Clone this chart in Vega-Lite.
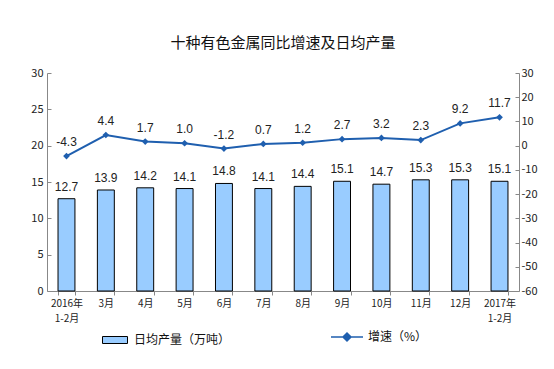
{
  "$schema": "https://vega.github.io/schema/vega-lite/v6.json",
  "width": 472,
  "height": 218,
  "autosize": {"type": "none"},
  "padding": {"left": 47, "top": 73, "right": 35, "bottom": 78},
  "background": "white",
  "config": {
    "view": {"stroke": null},
    "font": "Noto Sans CJK SC",
    "locale": {"number": {"decimal": ".", "thousands": ",", "grouping": [3], "currency": ["$", ""], "minus": "-"}},
    "axis": {"labelFont": "Noto Sans CJK SC", "labelFontSize": 10, "labelColor": "#222", "domainColor": "#888", "tickColor": "#888", "grid": false, "title": null}
  },
  "title": {"text": "十种有色金属同比增速及日均产量", "fontSize": 15, "fontWeight": "normal", "font": "Noto Sans CJK SC", "color": "#111", "offset": 16, "anchor": "middle"},
  "data": {"values": [
    {"m": "2016年\n1-2月", "prod": 12.7, "g": -4.3},
    {"m": "3月", "prod": 13.9, "g": 4.4},
    {"m": "4月", "prod": 14.2, "g": 1.7},
    {"m": "5月", "prod": 14.1, "g": 1.0},
    {"m": "6月", "prod": 14.8, "g": -1.2},
    {"m": "7月", "prod": 14.1, "g": 0.7},
    {"m": "8月", "prod": 14.4, "g": 1.2},
    {"m": "9月", "prod": 15.1, "g": 2.7},
    {"m": "10月", "prod": 14.7, "g": 3.2},
    {"m": "11月", "prod": 15.3, "g": 2.3},
    {"m": "12月", "prod": 15.3, "g": 9.2},
    {"m": "2017年\n1-2月", "prod": 15.1, "g": 11.7}
  ]},
  "encoding": {
    "x": {"field": "m", "type": "nominal", "sort": null,
      "scale": {"paddingInner": 0.57, "paddingOuter": 0.28},
      "axis": {"labelAngle": 0, "labelExpr": "split(datum.label, '\\n')", "labelLineHeight": 15, "labelPadding": 3, "tickBand": "extent", "tickSize": 4, "labelFontSize": 10}}
  },
  "layer": [
    {
      "encoding": {
        "y": {"field": "prod", "type": "quantitative", "scale": {"domain": [0, 30], "nice": false},
          "axis": {"orient": "left", "values": [0, 5, 10, 15, 20, 25, 30], "tickSize": -4, "labelPadding": 8, "labelFontSize": 11}}
      },
      "layer": [
        {"mark": {"type": "bar", "stroke": "#000", "strokeWidth": 1},
         "encoding": {"fill": {"datum": "日均产量（万吨）", "scale": {"range": ["#99CCFF"]},
           "legend": {"orient": "none", "legendX": 55, "legendY": 254, "title": null, "symbolType": "M-1,-0.28H1V0.28H-1Z", "symbolSize": 625, "symbolStrokeColor": "#000", "symbolStrokeWidth": 1, "labelFont": "Noto Sans CJK SC", "labelFontSize": 12, "labelColor": "#111", "labelOffset": 6}}}},
        {"mark": {"type": "text", "baseline": "bottom", "dy": -5, "fontSize": 12, "font": "Liberation Sans", "color": "#222"},
         "encoding": {"text": {"field": "prod", "type": "quantitative", "format": ".1f"}}}
      ]
    },
    {
      "encoding": {
        "y": {"field": "g", "type": "quantitative", "scale": {"domain": [-60, 30], "nice": false},
          "axis": {"orient": "right", "values": [-60, -50, -40, -30, -20, -10, 0, 10, 20, 30], "tickSize": -4, "labelPadding": 6, "labelFontSize": 11}}
      },
      "layer": [
        {"mark": {"type": "line", "strokeWidth": 2},
         "encoding": {"stroke": {"datum": "增速（%）", "scale": {"range": ["#1F5FAF"]},
           "legend": {"orient": "none", "legendX": 283, "legendY": 247, "title": null, "symbolType": "M-1,0H1M0,-0.25L0.25,0L0,0.25L-0.25,0Z", "symbolSize": 1024, "symbolFillColor": "#1F5FAF", "symbolStrokeWidth": 1.5, "labelFont": "Noto Sans CJK SC", "labelFontSize": 12, "labelColor": "#111", "labelOffset": 4}}}},
        {"mark": {"type": "point", "shape": "diamond", "filled": true, "size": 45, "color": "#1F5FAF", "opacity": 1}},
        {"mark": {"type": "text", "baseline": "bottom", "dy": -7, "fontSize": 12, "font": "Liberation Sans", "color": "#222"},
         "encoding": {"text": {"field": "g", "type": "quantitative", "format": ".1f"}}}
      ]
    }
  ],
  "resolve": {"scale": {"y": "independent"}}
}
